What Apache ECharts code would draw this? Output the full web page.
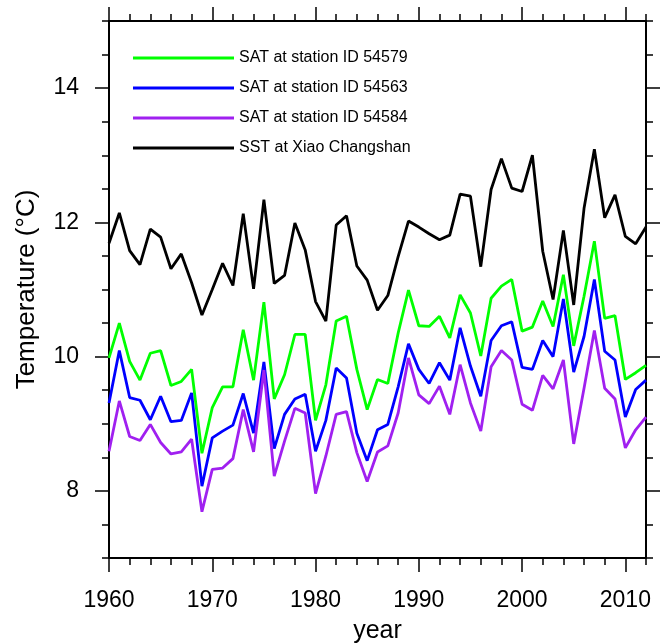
<!DOCTYPE html>
<html>
<head>
<meta charset="utf-8">
<script src="https://cdn.jsdelivr.net/npm/echarts@6/dist/echarts.min.js"></script>
<style>
html,body{margin:0;padding:0;background:#fff;}
#chart{width:668px;height:643px;}
</style>
</head>
<body>
<div id="chart"></div>
<script>
const years = [];
for (let y = 1960; y <= 2012; y++) years.push(y);

const sat54579 = [9.98,10.50,9.93,9.65,10.05,10.09,9.57,9.63,9.81,8.56,
  9.24,9.55,9.55,10.40,9.65,10.81,9.37,9.73,10.33,10.33,
  9.05,9.58,10.53,10.60,9.81,9.21,9.66,9.60,10.35,10.99,
  10.46,10.45,10.60,10.28,10.92,10.65,10.01,10.87,11.05,11.15,
  10.38,10.44,10.83,10.45,11.22,10.16,10.90,11.72,10.57,10.61,
  9.66,9.76,9.87];

const sat54563 = [9.31,10.09,9.39,9.35,9.06,9.41,9.03,9.05,9.46,8.07,
  8.79,8.89,8.98,9.45,8.86,9.92,8.63,9.14,9.37,9.44,
  8.59,9.05,9.83,9.68,8.86,8.45,8.91,8.99,9.55,10.19,
  9.81,9.60,9.91,9.65,10.43,9.86,9.41,10.24,10.46,10.52,
  9.84,9.81,10.24,10.00,10.86,9.77,10.30,11.15,10.08,9.95,
  9.10,9.51,9.65];

const sat54584 = [8.59,9.34,8.81,8.75,8.99,8.72,8.55,8.58,8.77,7.69,
  8.32,8.34,8.48,9.21,8.58,9.80,8.22,8.74,9.23,9.16,
  7.96,8.52,9.14,9.18,8.57,8.14,8.58,8.67,9.16,9.98,
  9.43,9.30,9.56,9.14,9.88,9.31,8.89,9.85,10.09,9.95,
  9.29,9.20,9.72,9.52,9.95,8.70,9.53,10.39,9.53,9.37,
  8.64,8.91,9.10];

const sstXiao = [11.69,12.14,11.58,11.37,11.90,11.78,11.31,11.53,11.10,10.62,
  11.00,11.39,11.06,12.13,11.01,12.34,11.09,11.21,11.99,11.59,
  10.82,10.53,11.96,12.10,11.35,11.14,10.69,10.91,11.49,12.02,
  11.93,11.83,11.74,11.81,12.42,12.39,11.34,12.49,12.95,12.51,
  12.46,13.00,11.57,10.85,11.88,10.77,12.21,13.09,12.07,12.41,
  11.79,11.68,11.93];

const xMajorTicks = [1960,1970,1980,1990,2000,2010];
const yMajorTicks = [8,10,12,14];

const seriesNames = ['SAT at station ID 54579','SAT at station ID 54563','SAT at station ID 54584','SST at Xiao Changshan'];
const seriesValues = [sat54579, sat54563, sat54584, sstXiao];
const seriesColors = ['#00ff00','#0000ff','#a020f0','#000000'];

const FONT = 'Liberation Sans, Arial, Helvetica, sans-serif';
const lineStyle = {color:'#000', width:2};
const plain = v => String(v);

function xAx(pos, interval, major, labels) {
  return {
    type:'value', position:pos, min:1960, max:2012, interval:interval,
    axisLine:{show:major, lineStyle:lineStyle, onZero:false},
    axisTick:{show:true, inside:false, length: major?14:7, lineStyle:{color:'#000', width:1.5},
      customValues: major ? xMajorTicks : undefined},
    axisLabel:{show:labels, customValues: labels ? xMajorTicks : undefined, formatter: plain,
      fontSize:23, color:'#000', fontFamily:FONT, margin:31},
    splitLine:{show:false},
    name: labels ? 'year' : '',
    nameLocation:'middle', nameGap:61,
    nameTextStyle:{fontSize:25, color:'#000', fontFamily:FONT}
  };
}
function yAx(pos, interval, major, labels) {
  return {
    type:'value', position:pos, min:7, max:15, interval:interval,
    axisLine:{show:major, lineStyle:lineStyle, onZero:false},
    axisTick:{show:true, inside:false, length: major?14:7, lineStyle:{color:'#000', width:1.5},
      customValues: major ? yMajorTicks : undefined},
    axisLabel:{show:labels, customValues: labels ? yMajorTicks : undefined, formatter: plain,
      fontSize:23, color:'#000', fontFamily:FONT, margin:30},
    splitLine:{show:false},
    name: labels ? 'Temperature (°C)' : '',
    nameLocation:'middle', nameGap:69, nameRotate:90,
    nameTextStyle:{fontSize:26, color:'#000', fontFamily:FONT}
  };
}

const chart = echarts.init(document.getElementById('chart'), null, {renderer:'canvas'});
chart.setOption({
  animation:false,
  backgroundColor:'#fff',
  grid:{left:109, right:22, top:21, bottom:85, containLabel:false, outerBoundsMode:'none'},
  legend:{
    show:true, orient:'vertical', left:128, top:45,
    itemWidth:101, itemHeight:3, itemGap:14, icon:'rect',
    textStyle:{fontSize:16, color:'#000', fontFamily:FONT, lineHeight:16},
    data: seriesNames
  },
  xAxis:[xAx('bottom',10,true,true), xAx('bottom',2,false,false), xAx('top',10,true,false), xAx('top',2,false,false)],
  yAxis:[yAx('left',1,true,true), yAx('left',0.5,false,false), yAx('right',1,true,false), yAx('right',0.5,false,false)],
  series: seriesNames.map((n,i)=>({
    name:n, type:'line', xAxisIndex:0, yAxisIndex:0,
    data: years.map((y,j)=>[y, seriesValues[i][j]]),
    showSymbol:false, symbol:'none',
    lineStyle:{color:seriesColors[i], width:2.8},
    itemStyle:{color:seriesColors[i]}
  }))
});
</script>
</body>
</html>
